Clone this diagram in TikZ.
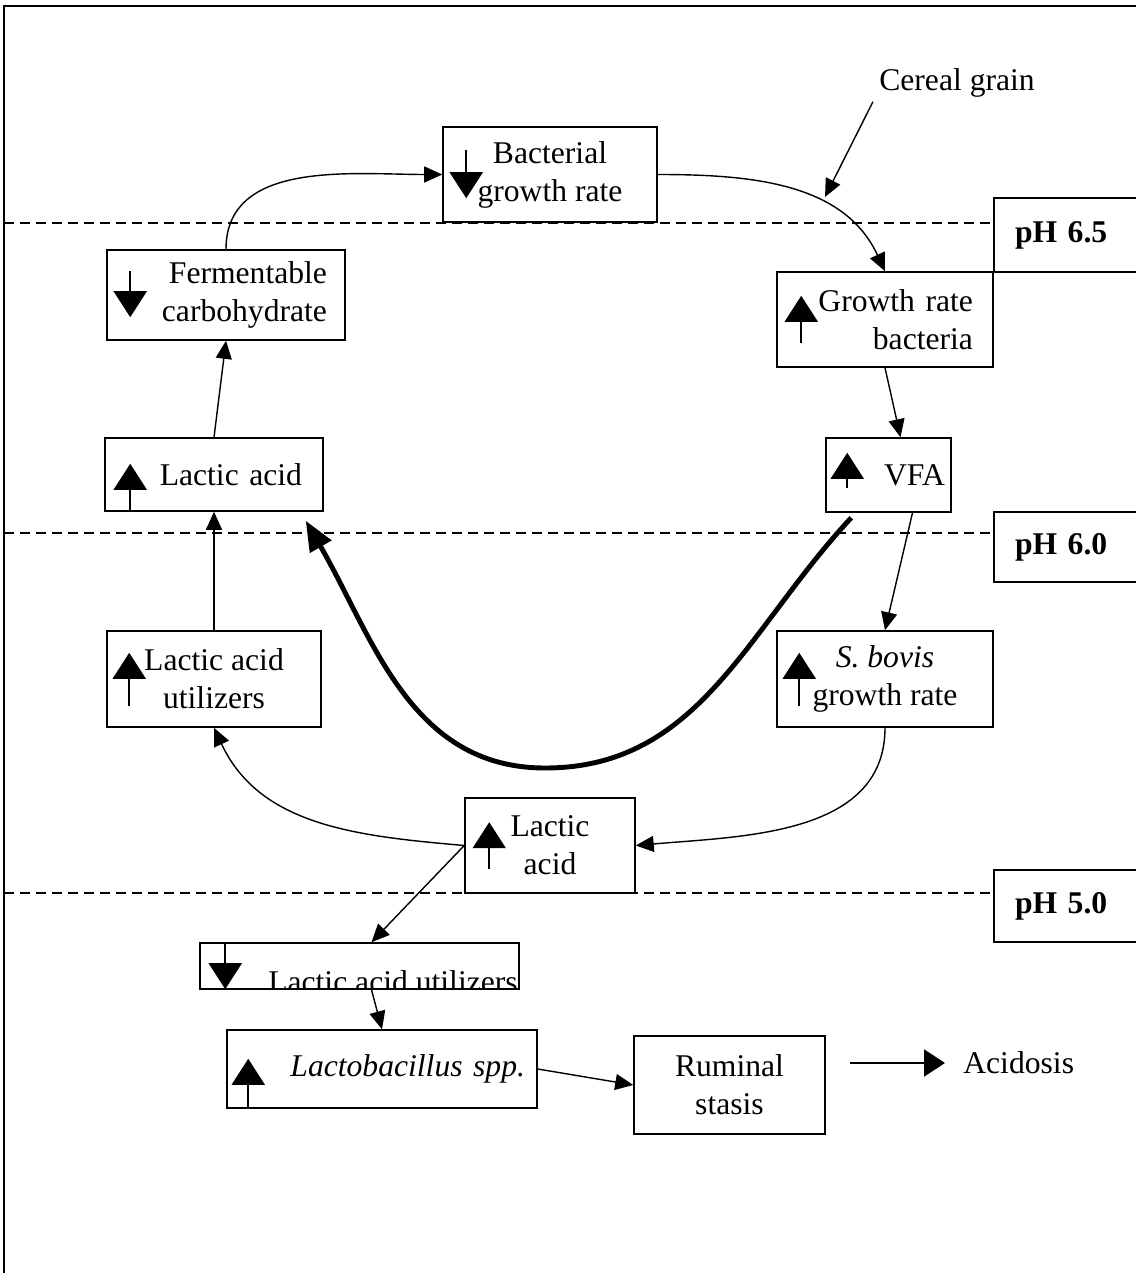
\documentclass[tikz,border=0pt]{standalone}
\usepackage{fontspec}
\setmainfont{Liberation Serif}
\usetikzlibrary{arrows.meta}

\begin{document}
\begin{tikzpicture}[x=0.02cm, y=-0.02cm,
    box/.style={rectangle, draw, line width=0.9pt, inner sep=0pt, font=\fontsize{18}{21.6}\selectfont, align=center},
    phbox/.style={rectangle, draw, line width=0.9pt, inner ysep=0pt, inner xsep=0.42cm, text width=2.08cm, align=left, minimum width=2.92cm, minimum height=1.48cm, font=\fontsize{18}{21.6}\selectfont\bfseries},
    plain/.style={inner sep=0pt, font=\fontsize{18}{21.6}\selectfont},
    conn/.style={-{Triangle[length=0.36cm,width=0.32cm]}, line width=0.8pt},
    bigconn/.style={-{Triangle[length=0.6cm,width=0.48cm]}, line width=2.8pt},
    acidarrow/.style={-{Triangle[length=0.42cm,width=0.54cm]}, line width=1.3pt},
    trend/.style={-{Triangle[length=0.52cm,width=0.66cm]}, line width=1.1pt},
    phline/.style={dash pattern=on 0.2cm off 0.12cm, line width=0.8pt}
]
\useasboundingbox (0,0) rectangle (1135,1273);

% frame and pH levels
\draw[line width=1.1pt] (4,1273) -- (4,6) -- (1140,6);
\draw[phline] (4,223) -- (994,223);
\draw[phline] (4,533) -- (994,533);
\draw[phline] (4,893) -- (994,893);

\node[phbox] (ph65) at (1067,235) {pH 6.5};
\node[phbox, minimum height=1.4cm] (ph60) at (1067,547) {pH 6.0};
\node[phbox, minimum height=1.44cm] (ph50) at (1067,906) {pH 5.0};

% boxes of the cycle
\node[box, minimum width=4.28cm, minimum height=1.9cm] (bgr) at (550,174.5) {Bacterial\\growth rate};
\node[box, minimum width=4.76cm, minimum height=1.8cm, inner xsep=0.36cm, text width=4.04cm, align=right] (fc) at (226,295) {Fermentable\\carbohydrate};
\node[box, minimum width=4.32cm, minimum height=1.9cm, inner xsep=0.4cm, text width=3.52cm, align=right] (grb) at (885,319.5) {Growth rate\\bacteria};
\node[box, minimum width=2.5cm, minimum height=1.48cm, inner xsep=0.12cm, text width=2.26cm, align=right] (vfa) at (888.5,475) {VFA};
\node[box, minimum width=4.36cm, minimum height=1.46cm, inner xsep=0.42cm, text width=3.52cm, align=right] (la1) at (214,474.5) {Lactic acid};
\node[box, minimum width=4.28cm, minimum height=1.92cm] (lau) at (214,679) {Lactic acid\\utilizers};
\node[box, minimum width=4.32cm, minimum height=1.92cm] (sbg) at (885,679) {\textit{S. bovis}\\growth rate};
\node[box, minimum width=3.4cm, minimum height=1.9cm] (la2) at (550,845.5) {Lactic\\acid};

% below pH 5.0
\node[box, minimum width=6.38cm, minimum height=0.92cm] (lub) at (359.5,966) {};
\begin{scope}
  \clip (lub.south west) rectangle (lub.north east);
  \node[plain, anchor=base east] (lubt) at (518,992) {Lactic acid utilizers};
\end{scope}
\node[box, minimum width=6.2cm, minimum height=1.56cm, inner xsep=0.24cm, text width=5.72cm, align=right] (lbs) at (382,1069) {\textit{Lactobacillus spp.}};
\node[box, minimum width=3.82cm, minimum height=1.96cm] (rs) at (729.5,1085) {Ruminal\\stasis};
\node[plain, anchor=west] (acid) at (963,1063) {Acidosis};
\node[plain] (cg) at (957,83) {Cereal grain};

% up and down marks inside the boxes
\draw[trend] ([shift={(24,24)}]bgr.north west) -- ([shift={(24,72)}]bgr.north west);
\draw[trend] ([shift={(24,22)}]fc.north west) -- ([shift={(24,68)}]fc.north west);
\draw[trend] ([shift={(25,-25)}]grb.south west) -- ([shift={(25,-72)}]grb.south west);
\draw[trend] ([shift={(22,-25)}]vfa.south west) -- ([shift={(22,-60)}]vfa.south west);
\draw[trend] ([shift={(26,0)}]la1.south west) -- ([shift={(26,-48)}]la1.south west);
\draw[trend] ([shift={(23,-22)}]lau.south west) -- ([shift={(23,-75)}]lau.south west);
\draw[trend] ([shift={(23,-22)}]sbg.south west) -- ([shift={(23,-75)}]sbg.south west);
\draw[trend] ([shift={(25,72)}]la2.north west) -- ([shift={(25,25)}]la2.north west);
\draw[trend] ([shift={(26,0)}]lub.north west) -- ([shift={(26,47)}]lub.north west);
\draw[trend] ([shift={(22,0)}]lbs.south west) -- ([shift={(22,-50)}]lbs.south west);

% connectors
\draw[conn] (fc.north) to[out=90, in=180] (bgr.west);
\draw[conn] (bgr.east) to[out=0, in=115] (grb.north);
\draw[conn] (grb.south) -- ([shift={(12,0)}]vfa.north);
\draw[conn] ([shift={(24,0)}]vfa.south) -- (sbg.north);
\draw[conn] (sbg.south) to[out=-90, in=5] (la2.east);
\draw[conn] (la2.west) to[out=175, in=-65] (lau.south);
\draw[conn] (la2.west) -- ([shift={(12,0)}]lub.north);
\draw[conn] (lau.north) -- (la1.south);
\draw[conn] (la1.north) -- (fc.south);
\draw[conn] ([shift={(12,0)}]lub.south) -- (lbs.north);
\draw[conn] (lbs.east) -- (rs.west);

\coordinate (dip) at (545,768);
\draw[bigconn] ([shift={(26,5)}]vfa.south west) to[out=-133, in=0] (dip) to[out=180, in=-60] ([shift={(-18,9)}]la1.south east);

\coordinate (acs) at (850,1063);
\draw[acidarrow] (acs) -- ([shift={(-18,0)}]acid.west);

\coordinate (cgtip) at (825,197);
\draw[conn] ([shift={(-6,4)}]cg.south west) -- (cgtip);

\end{tikzpicture}
\end{document}
